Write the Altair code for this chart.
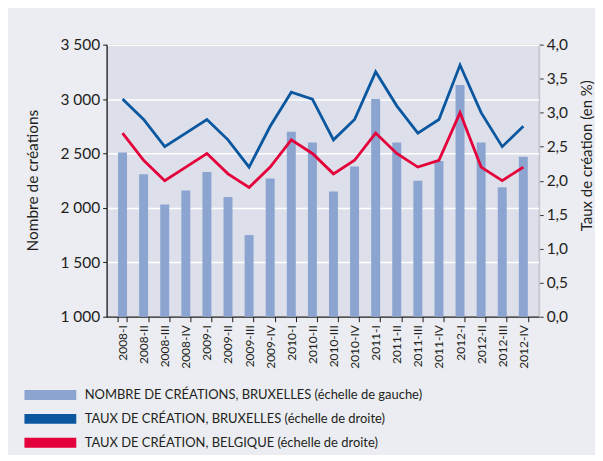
import altair as alt
import pandas as pd

quarters = ["2008-I", "2008-II", "2008-III", "2008-IV",
            "2009-I", "2009-II", "2009-III", "2009-IV",
            "2010-I", "2010-II", "2010-III", "2010-IV",
            "2011-I", "2011-II", "2011-III", "2011-IV",
            "2012-I", "2012-II", "2012-III", "2012-IV"]
creations = [2510, 2310, 2030, 2160, 2330, 2100, 1750, 2270, 2700, 2600,
             2150, 2380, 3000, 2600, 2250, 2430, 3130, 2600, 2190, 2470]
taux_bruxelles = [3.2, 2.9, 2.5, 2.7, 2.9, 2.6, 2.2, 2.8, 3.3, 3.2,
                  2.6, 2.9, 3.6, 3.1, 2.7, 2.9, 3.7, 3.0, 2.5, 2.8]
taux_belgique = [2.7, 2.3, 2.0, 2.2, 2.4, 2.1, 1.9, 2.2, 2.6, 2.4,
                 2.1, 2.3, 2.7, 2.4, 2.2, 2.3, 3.0, 2.2, 2.0, 2.2]
series_labels = ["NOMBRE DE CRÉATIONS, BRUXELLES (échelle de gauche)",
                 "TAUX DE CRÉATION, BRUXELLES (échelle de droite)",
                 "TAUX DE CRÉATION, BELGIQUE (échelle de droite)"]
series_colors = ["#8ca4d0", "#0a57a0", "#e4003b"]
left_ticks = [1000, 1500, 2000, 2500, 3000, 3500]
right_ticks = [0, 0.5, 1, 1.5, 2, 2.5, 3, 3.5, 4]

FONT = "Lato"
TXT = "#231f20"

bars_df = pd.DataFrame({"trimestre": quarters, "creations": creations,
                        "serie": series_labels[0]})
lines_df = pd.concat([
    pd.DataFrame({"trimestre": quarters, "taux": taux_bruxelles, "serie": series_labels[1]}),
    pd.DataFrame({"trimestre": quarters, "taux": taux_belgique, "serie": series_labels[2]}),
], ignore_index=True)

x_enc = alt.X("trimestre:N", sort=quarters,
              scale=alt.Scale(paddingInner=0.575, paddingOuter=0.54),
              axis=alt.Axis(title=None, labelAngle=270, labelFontSize=12, labelFont=FONT,
                            labelColor=TXT, labelPadding=3, tickBand="extent", tickSize=5,
                            domainColor="#1a1a1a", tickColor="#1a1a1a", domainWidth=1.2))

bars = alt.Chart(bars_df).mark_bar(size=9).encode(
    x=x_enc,
    y=alt.Y("creations:Q",
            scale=alt.Scale(domain=[1000, 3500], zero=False, nice=False),
            axis=alt.Axis(title="Nombre de créations", values=left_ticks,
                          labelExpr="replace(format(datum.value, ',d'), ',', ' ')",
                          labelFont=FONT, labelFontSize=15.5, labelColor=TXT, labelPadding=3,
                          tickSize=4, tickColor="#1a1a1a", domainColor="#1a1a1a", domainWidth=1.2,
                          grid=True, gridColor="#ffffff", gridWidth=1.5,
                          titleFont=FONT, titleFontSize=15.5, titleFontWeight="normal",
                          titleColor=TXT, titleAngle=270, titleX=-74, titleY=136,
                          titleAlign="center", titleBaseline="middle")),
    y2=alt.datum(1000),
    color=alt.Color("serie:N",
                    scale=alt.Scale(domain=series_labels, range=series_colors),
                    legend=alt.Legend(title=None, orient="none", legendX=-63, legendY=345,
                                      direction="vertical",
                                      symbolType="M-5.2,-1H5.2V1H-5.2Z", symbolSize=100,
                                      symbolStrokeWidth=0, symbolOpacity=1,
                                      labelOffset=28, labelFont=FONT, labelFontSize=13,
                                      labelColor=TXT, labelLimit=600, rowPadding=10)),
)

lines = alt.Chart(lines_df).mark_line(strokeWidth=2.8).encode(
    x=x_enc,
    y=alt.Y("taux:Q",
            scale=alt.Scale(domain=[0, 4], nice=False, zero=True),
            axis=alt.Axis(orient="right", title="Taux de création (en %)", values=right_ticks,
                          labelExpr="replace(format(datum.value, '.1f'), '.', ',')",
                          labelFont=FONT, labelFontSize=15.5, labelColor=TXT, labelPadding=3,
                          tickSize=4, tickColor="#333333", domainColor="#c4c6cb",
                          grid=False,
                          titleFont=FONT, titleFontSize=15, titleFontWeight="normal",
                          titleColor=TXT, titleAngle=270, titleX=47, titleY=111,
                          titleAlign="center", titleBaseline="middle")),
    color=alt.Color("serie:N",
                    scale=alt.Scale(domain=series_labels[1:], range=series_colors[1:]),
                    legend=None),
)

chart = alt.layer(bars, lines).resolve_scale(
    y="independent", color="independent"
).properties(
    width=434, height=273,
    background="#ecedf2",
    padding={"left": 99, "top": 36, "right": 56, "bottom": 138},
    autosize=alt.AutoSizeParams(type="none"),
).configure_view(
    fill="#dde0ea", stroke="#c4c6cb", strokeWidth=1.5
)

chart.save("out.html", embed_options={"renderer": "svg", "actions": False})
